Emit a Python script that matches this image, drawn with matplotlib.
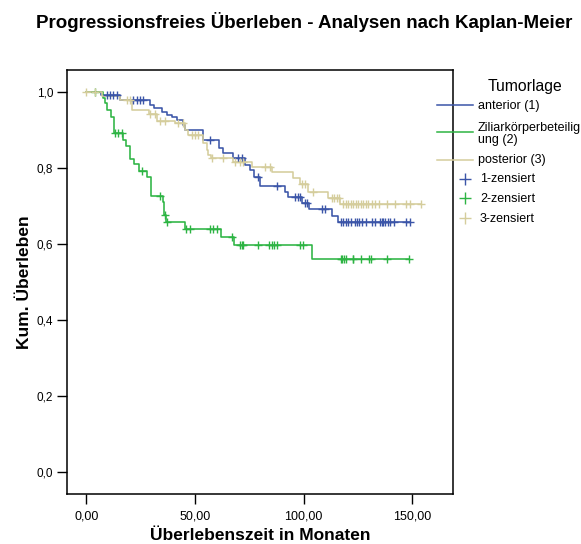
import numpy as np
import matplotlib
matplotlib.use("Agg")
import matplotlib.pyplot as plt
from matplotlib.lines import Line2D

plt.rcParams['font.family'] = ['Liberation Sans', 'DejaVu Sans']

# ---------------- data ----------------
legend_title = "Tumorlage"
group_names = ["anterior (1)", "Ziliarkörperbeteilig\nung (2)", "posterior (3)"]
censor_names = ["1-zensiert", "2-zensiert", "3-zensiert"]

# anterior (1)
ant_event_t = [6.6, 15.5, 29.3, 31.1, 34.7, 37.3, 39.3, 41.6, 44.6, 45.5, 53.8, 61.2, 63.0,
               67.6, 73.0, 75.3, 77.0, 80.0, 91.4, 92.9, 99.1, 102.4, 112.9, 115.9]
ant_event_s = [0.992, 0.979, 0.966, 0.957, 0.948, 0.940, 0.933, 0.926, 0.913, 0.900, 0.874, 0.852,
               0.840, 0.826, 0.808, 0.795, 0.777, 0.753, 0.738, 0.724, 0.709, 0.692, 0.675, 0.658]
ant_censor_t = [9.4, 10.9, 12.4, 14.0, 21.6, 23.2, 24.7, 26.2, 56.9, 69.9, 71.5, 79.1, 87.9,
                96.0, 97.5, 98.3, 100.6, 101.7, 108.3, 109.8,
                117.0, 118.2, 119.5, 120.5, 121.6, 123.6, 124.6, 125.6, 126.7, 128.7, 131.3,
                132.8, 135.1, 135.9, 136.6, 137.4, 138.9, 139.7, 141.5, 147.1, 148.9]

# Ziliarkoerperbeteiligung (2)
zil_event_t = [7.8, 8.6, 9.4, 11.2, 12.9, 17.0, 18.1, 20.1, 21.9, 24.2, 28.1, 29.9, 35.1,
               35.9, 36.7, 45.5, 61.8, 67.9, 104.0]
zil_event_s = [0.983, 0.970, 0.953, 0.935, 0.891, 0.875, 0.858, 0.825, 0.810, 0.793, 0.777,
               0.726, 0.711, 0.676, 0.659, 0.639, 0.619, 0.597, 0.561]
zil_censor_t = [4.0, 13.2, 14.7, 16.3, 25.8, 33.9, 36.2, 37.0, 46.0, 47.5, 56.9, 58.1, 60.0,
                66.9, 70.7, 71.5, 72.2, 79.1, 84.2, 85.3, 86.3, 87.9, 98.3, 99.8,
                117.0, 117.8, 118.5, 119.3, 122.5, 122.8, 126.4, 130.2, 131.0, 138.2, 148.6]

# posterior (3)
pos_event_t = [7.1, 15.5, 20.9, 29.0, 32.4, 40.8, 45.4, 46.9, 53.8, 55.4, 56.1, 57.2, 67.6,
               76.1, 85.3, 95.2, 98.3, 102.1, 111.3, 116.7]
pos_event_s = [0.990, 0.979, 0.954, 0.942, 0.924, 0.918, 0.900, 0.887, 0.866, 0.847, 0.834,
               0.826, 0.817, 0.803, 0.789, 0.775, 0.757, 0.738, 0.720, 0.705]
pos_censor_t = [0.0, 4.0, 18.6, 20.1, 29.3, 31.6, 33.9, 36.2, 42.3, 44.6, 48.5, 50.0, 51.5,
                57.7, 63.0, 68.4, 70.7, 72.2, 82.2, 84.5, 99.1, 100.6, 104.4,
                112.9, 114.0, 115.2, 116.4,
                118.2, 119.5, 120.5, 121.6, 122.8, 124.1, 125.2, 126.3, 127.5, 128.7, 129.8,
                131.3, 132.8, 134.8, 138.2, 142.0, 147.1, 148.9, 153.8]

x_ticks = [0, 50, 100, 150]
x_ticklabels = ["0,00", "50,00", "100,00", "150,00"]
y_ticks = [0.0, 0.2, 0.4, 0.6, 0.8, 1.0]
y_ticklabels = ["0,0", "0,2", "0,4", "0,6", "0,8", "1,0"]

colors = ['#3b55a8', '#2db443', '#d5cd9c']

# ---------------- figure ----------------
W, H = 581, 544
fig = plt.figure(figsize=(W/100, H/100), dpi=100)
ax = fig.add_axes([67/W, 1-494/H, (453-67)/W, (494-70)/H])

def fx(px):
    return px / W

def fy(py):
    return 1 - py / H

groups = [(ant_event_t, ant_event_s, ant_censor_t),
          (zil_event_t, zil_event_s, zil_censor_t),
          (pos_event_t, pos_event_s, pos_censor_t)]

for (et, es, ct), col in zip(groups, colors):
    et = np.asarray(et); es = np.asarray(es); ct = np.asarray(ct)
    end = max(et.max(), ct.max())
    t = np.concatenate([[0.0], et, [end]])
    s = np.concatenate([[1.0], es, [es[-1]]])
    ax.step(t, s, where='post', color=col, lw=1.15, zorder=2)
    idx = np.searchsorted(et, ct, side='right') - 1
    cs = np.where(idx >= 0, es[np.clip(idx, 0, None)], 1.0)
    ax.plot(ct, cs, linestyle='none', marker='+', color=col, ms=5.8, mew=1.0, zorder=3)

ax.set_xlim(-8.9, 168.7)
ax.set_ylim(-0.058, 1.058)
ax.set_xticks(x_ticks)
ax.set_xticklabels(x_ticklabels, fontsize=9)
ax.set_yticks(y_ticks)
ax.set_yticklabels(y_ticklabels, fontsize=8.5)
ax.tick_params(axis='both', direction='out', length=7, width=1.0, pad=3)
ax.tick_params(axis='x', pad=5)
for sp in ax.spines.values():
    sp.set_linewidth(1.1)

fig.text(fx(260), fy(536), "Überlebenszeit in Monaten", ha='center', va='center',
         fontsize=12.5, fontweight='bold')
fig.text(fx(25), fy(282), "Kum. Überleben", ha='center', va='center', rotation=90,
         fontsize=12.5, fontweight='bold')

fig.text(fx(304), fy(22), "Progressionsfreies Überleben - Analysen nach Kaplan-Meier",
         ha='center', va='center', fontsize=13.5, fontweight='bold')

# ---------------- legend (drawn in figure pixels) ----------------
fig.text(fx(525), fy(86), legend_title, ha='center', va='center', fontsize=11.3)
line_rows = [104.5, 131.7, 159.5]
text_rows = [106, 134, 160]
for name, col, ly, ty in zip(group_names, colors, line_rows, text_rows):
    fig.add_artist(Line2D([fx(437), fx(473)], [fy(ly), fy(ly)], color=col, lw=1.1,
                          transform=fig.transFigure))
    fig.text(fx(478), fy(ty), name, ha='left', va='center', fontsize=9, linespacing=1.1)
cens_rows = [178.5, 198.3, 218]
for name, col, ry in zip(censor_names, colors, cens_rows):
    fig.add_artist(Line2D([fx(465)], [fy(ry)], color=col, lw=0, marker='+', ms=8.6, mew=1.0,
                          transform=fig.transFigure))
    fig.text(fx(480), fy(ry + 0.5), name, ha='left', va='center', fontsize=9)

fig.savefig("out.png", dpi=100)
